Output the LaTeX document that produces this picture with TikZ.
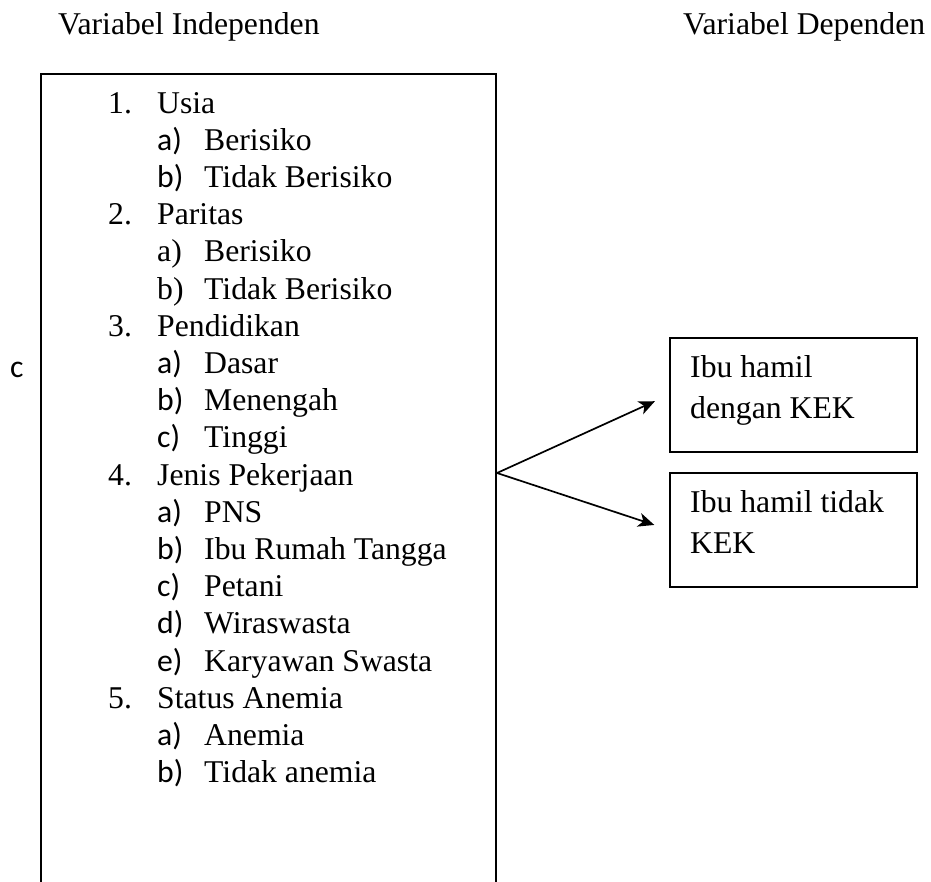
\documentclass[tikz,border=0pt]{standalone}
\usepackage{fontspec}
\setmainfont{Liberation Serif}
\newfontfamily\carlfont{Carlito}
\usetikzlibrary{arrows.meta}
\tikzset{
  txt/.style={anchor=base west, inner sep=0pt, font=\fontsize{31.7}{38}\selectfont},
  ctxt/.style={anchor=base west, inner sep=0pt, font=\fontsize{31.7}{38}\selectfont\carlfont},
  bigbox/.style={draw, line width=1.8pt, inner sep=0pt, anchor=north west},
  depbox/.style={draw, line width=1.6pt, inner sep=0pt, anchor=north west, minimum width=247pt, minimum height=114pt},
  conn/.style={line width=1.7pt, -{Stealth[length=16pt,width=14pt,inset=4.5pt]}, shorten >=15.5pt}
}
\begin{document}
\begin{tikzpicture}[x=1pt,y=-1pt]
\useasboundingbox (0,0) rectangle (931,881);
\clip (0,0) rectangle (931,881);
% titles
\node[txt] (tind) at (58,34) {Variabel Independen};
\node[txt] (tdep) at (683,34) {Variabel Dependen};
% main box
\node[bigbox, minimum width=455pt, minimum height=840pt] (indep) at (40,73) {};
\node[ctxt] (cside) at (10,377) {c};
% list
\node[txt] (n1) at (108,113) {1.};
\node[txt] (i1) at (157,113) {Usia};
\node[ctxt] (l1a) at (157,150.2) {a)};
\node[txt] (s1a) at (204,150.2) {Berisiko};
\node[ctxt] (l1b) at (157,187.4) {b)};
\node[txt] (s1b) at (204,187.4) {Tidak Berisiko};
\node[txt] (n2) at (108,224.6) {2.};
\node[txt] (i2) at (157,224.6) {Paritas};
\node[txt] (l2a) at (157,261.8) {a)};
\node[txt] (s2a) at (204,261.8) {Berisiko};
\node[txt] (l2b) at (157,299) {b)};
\node[txt] (s2b) at (204,299) {Tidak Berisiko};
\node[txt] (n3) at (108,336.2) {3.};
\node[txt] (i3) at (157,336.2) {Pendidikan};
\node[ctxt] (l3a) at (157,373.4) {a)};
\node[txt] (s3a) at (204,373.4) {Dasar};
\node[ctxt] (l3b) at (157,410.6) {b)};
\node[txt] (s3b) at (204,410.6) {Menengah};
\node[ctxt] (l3c) at (157,447.8) {c)};
\node[txt] (s3c) at (204,447.8) {Tinggi};
\node[txt] (n4) at (108,485) {4.};
\node[txt] (i4) at (157,485) {Jenis Pekerjaan};
\node[ctxt] (l4a) at (157,522.2) {a)};
\node[txt] (s4a) at (204,522.2) {PNS};
\node[ctxt] (l4b) at (157,559.4) {b)};
\node[txt] (s4b) at (204,559.4) {Ibu Rumah Tangga};
\node[ctxt] (l4c) at (157,596.6) {c)};
\node[txt] (s4c) at (204,596.6) {Petani};
\node[ctxt] (l4d) at (157,633.8) {d)};
\node[txt] (s4d) at (204,633.8) {Wiraswasta};
\node[ctxt] (l4e) at (157,671) {e)};
\node[txt] (s4e) at (204,671) {Karyawan Swasta};
\node[txt] (n5) at (108,708.2) {5.};
\node[txt] (i5) at (157,708.2) {Status Anemia};
\node[ctxt] (l5a) at (157,745.4) {a)};
\node[txt] (s5a) at (204,745.4) {Anemia};
\node[ctxt] (l5b) at (157,782.6) {b)};
\node[txt] (s5b) at (204,782.6) {Tidak anemia};
% dependent boxes
\node[depbox] (k1) at (669,337) {};
\node[txt] (k1a) at (690,377) {Ibu hamil};
\node[txt] (k1b) at (690,418) {dengan KEK};
\node[depbox] (k2) at (669,472) {};
\node[txt] (k2a) at (690,512) {Ibu hamil tidak};
\node[txt] (k2b) at (690,553) {KEK};
% connectors
\coordinate (fork) at (497,473);
\draw[conn] (fork) -- (k1.west);
\draw[conn] (fork) -- (k2.west);
\end{tikzpicture}
\end{document}
